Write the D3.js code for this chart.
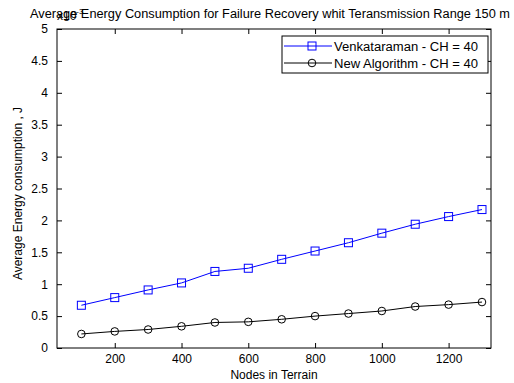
<!DOCTYPE html>
<html>
<head>
<meta charset="utf-8">
<script src="https://cdn.jsdelivr.net/npm/d3@7"></script>
<style>
  body { margin: 0; background: #fff; }
  text { font-family: "Liberation Sans", Arial, sans-serif; fill: #000; }
</style>
</head>
<body>
<div id="chart"></div>
<script>
// Data (y values in units of 10^-3 J)
let nodes = [100, 200, 300, 400, 500, 600, 700, 800, 900, 1000, 1100, 1200, 1300];
let venkataraman = [0.67, 0.79, 0.91, 1.02, 1.20, 1.25, 1.39, 1.52, 1.65, 1.80, 1.94, 2.06, 2.17];
let newAlgorithm = [0.22, 0.26, 0.29, 0.34, 0.40, 0.41, 0.45, 0.50, 0.54, 0.58, 0.65, 0.68, 0.72];
let xTicks = [200, 400, 600, 800, 1000, 1200];
let yTicks = [0, 0.5, 1, 1.5, 2, 2.5, 3, 3.5, 4, 4.5, 5];
let seriesNames = ['Venkataraman - CH = 40', 'New Algorithm - CH = 40'];

let svgWidth = 514;
let svgHeight = 383;
let margin = { top: 29, right: 23, bottom: 35, left: 57 };
let width = svgWidth - margin.left - margin.right;
let height = svgHeight - margin.top - margin.bottom;

let svg = d3.select('#chart').append('svg')
  .attr('width', svgWidth)
  .attr('height', svgHeight);

let chartGroup = svg.append('g')
  .attr('transform', `translate(${margin.left}, ${margin.top})`);

let x = d3.scaleLinear().domain([27, 1327]).range([0, width]);
let y = d3.scaleLinear().domain([0, 5]).range([height, 0]);

// axes, matlab style: ticks point inside, on all four sides
let bottomAxis = d3.axisBottom(x).tickValues(xTicks).tickSize(-5).tickPadding(6).tickFormat(d3.format('d'));
let topAxis = d3.axisTop(x).tickValues(xTicks).tickSize(-5).tickFormat('');
let leftAxis = d3.axisLeft(y).tickValues(yTicks).tickSize(-5).tickPadding(9).tickFormat(d => d);
let rightAxis = d3.axisRight(y).tickValues(yTicks).tickSize(-5).tickFormat('');

function styleAxis(g) {
  g.select('.domain').remove();
  g.selectAll('line').attr('stroke', '#000');
  g.selectAll('text').attr('font-size', '12px').attr('font-family', '"Liberation Sans", Arial, sans-serif');
}

chartGroup.append('g').attr('transform', `translate(0, ${height})`).call(bottomAxis).call(styleAxis);
chartGroup.append('g').call(topAxis).call(styleAxis);
chartGroup.append('g').call(leftAxis).call(styleAxis);
chartGroup.append('g').attr('transform', `translate(${width}, 0)`).call(rightAxis).call(styleAxis);

chartGroup.append('rect')
  .attr('width', width)
  .attr('height', height)
  .attr('fill', 'none')
  .attr('stroke', '#000');

// lines
let line = d3.line()
  .x((d, i) => x(nodes[i]))
  .y(d => y(d));

chartGroup.append('path')
  .datum(venkataraman)
  .attr('d', line)
  .attr('fill', 'none')
  .attr('stroke', '#0000ff');

chartGroup.append('path')
  .datum(newAlgorithm)
  .attr('d', line)
  .attr('fill', 'none')
  .attr('stroke', '#000');

chartGroup.selectAll('.sq')
  .data(venkataraman)
  .enter()
  .append('rect')
  .attr('x', (d, i) => x(nodes[i]) - 4)
  .attr('y', d => y(d) - 4)
  .attr('width', 8)
  .attr('height', 8)
  .attr('fill', 'none')
  .attr('stroke', '#0000ff');

chartGroup.selectAll('.circ')
  .data(newAlgorithm)
  .enter()
  .append('circle')
  .attr('cx', (d, i) => x(nodes[i]))
  .attr('cy', d => y(d))
  .attr('r', 3.8)
  .attr('fill', 'none')
  .attr('stroke', '#000');

// legend
let legend = svg.append('g')
  .attr('transform', 'translate(282, 36)');

legend.append('rect')
  .attr('width', 206)
  .attr('height', 37)
  .attr('fill', '#fff')
  .attr('stroke', '#000');

seriesNames.forEach(function(name, i) {
  let ly = 10 + i * 17;
  let color = i === 0 ? '#0000ff' : '#000';
  legend.append('line')
    .attr('x1', 2).attr('x2', 50)
    .attr('y1', ly).attr('y2', ly)
    .attr('stroke', color);
  if (i === 0) {
    legend.append('rect')
      .attr('x', 26).attr('y', ly - 4)
      .attr('width', 8).attr('height', 8)
      .attr('fill', 'none').attr('stroke', color);
  } else {
    legend.append('circle')
      .attr('cx', 30).attr('cy', ly).attr('r', 3.8)
      .attr('fill', 'none').attr('stroke', color);
  }
  legend.append('text')
    .attr('x', 52)
    .attr('y', ly + 4.5)
    .attr('font-size', '12px')
    .attr('textLength', 144)
    .attr('lengthAdjust', 'spacingAndGlyphs')
    .text(name);
});

// exponent label
let expo = svg.append('text')
  .attr('x', margin.left)
  .attr('y', 20)
  .attr('font-size', '12px');
expo.append('tspan').text('x10');
expo.append('tspan').attr('dy', -6).attr('font-size', '8px').text('-3');

// title
svg.append('text')
  .attr('x', 30)
  .attr('y', 18)
  .attr('font-size', '12px')
  .attr('textLength', 480)
  .attr('lengthAdjust', 'spacingAndGlyphs')
  .text('Average Energy Consumption for Failure Recovery whit Teransmission Range 150 m');

// axis labels
svg.append('text')
  .attr('x', margin.left + width / 2)
  .attr('y', 379)
  .attr('text-anchor', 'middle')
  .attr('font-size', '12px')
  .text('Nodes in Terrain');

svg.append('text')
  .attr('transform', `translate(22, ${margin.top + height / 2 + 5}) rotate(-90)`)
  .attr('text-anchor', 'middle')
  .attr('font-size', '12px')
  .text('Average Energy consumption , J');
</script>
</body>
</html>
